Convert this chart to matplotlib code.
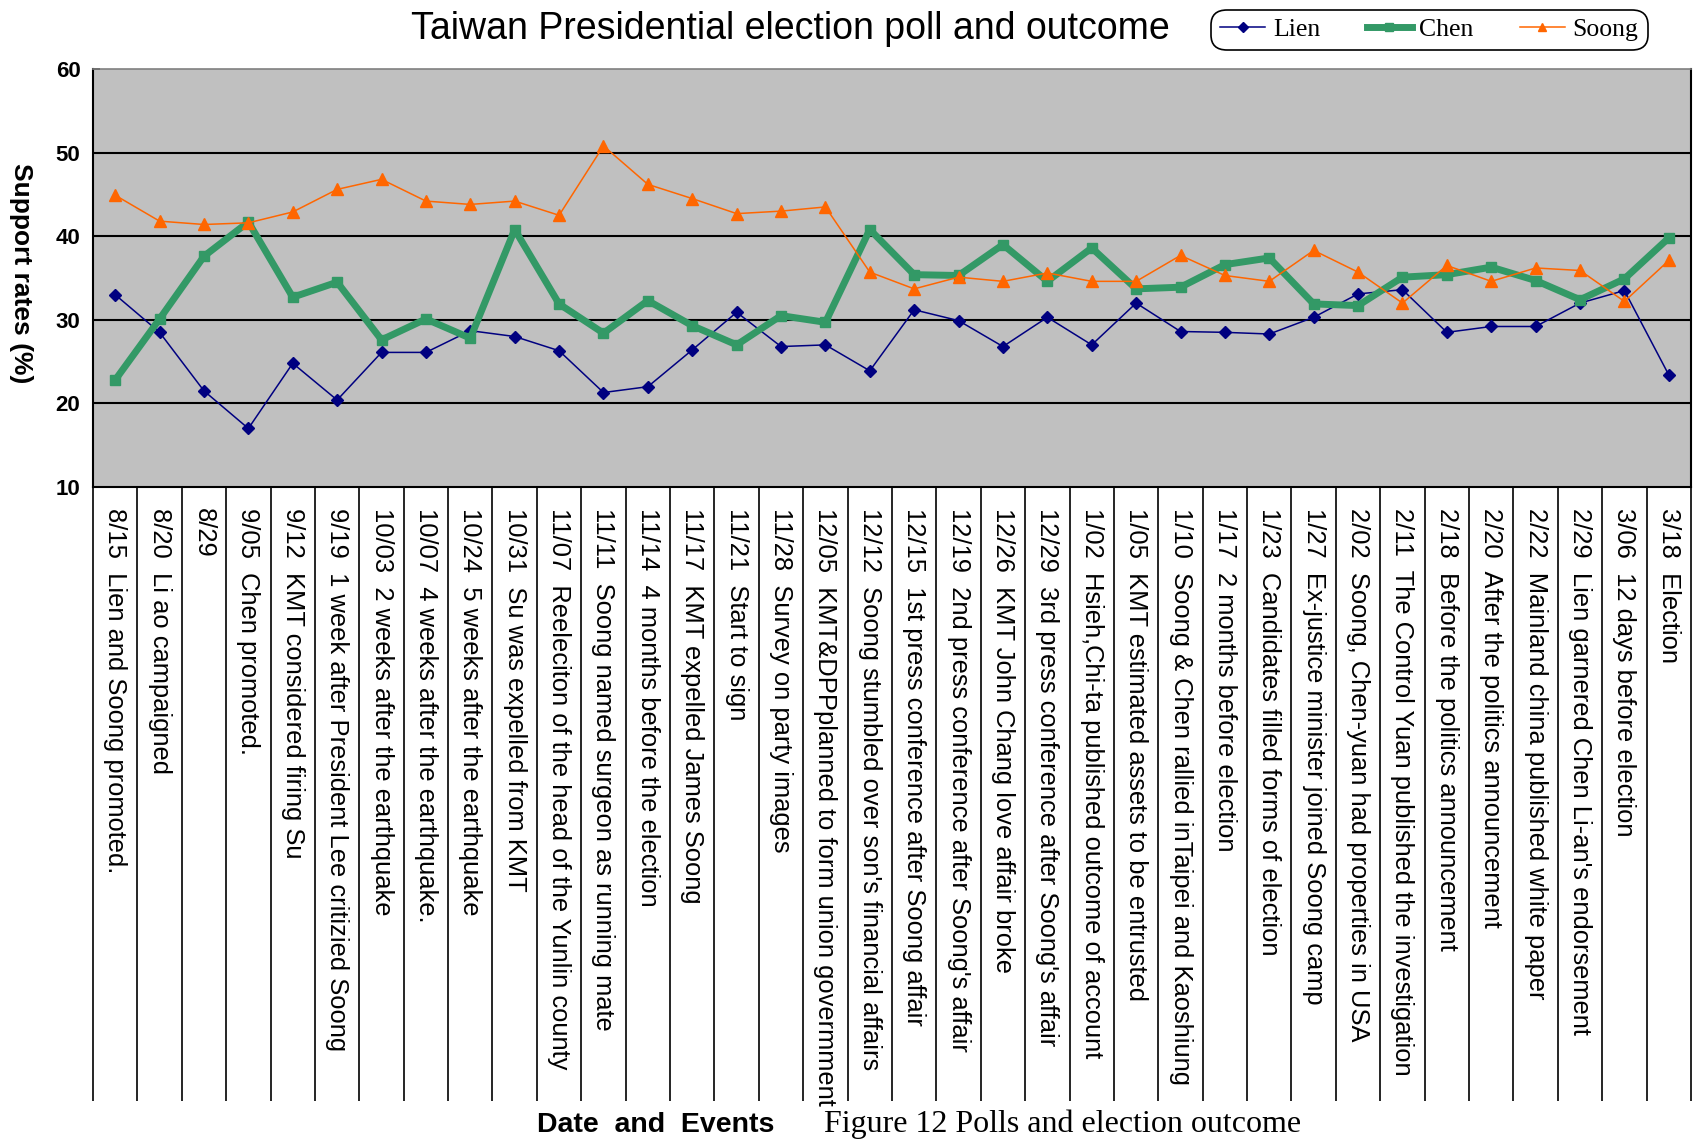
import matplotlib
matplotlib.use("Agg")
import matplotlib.pyplot as plt

plt.rcParams["font.family"] = ["Liberation Sans", "DejaVu Sans"]

# poll dates with the event that happened around each one
events = [
    "8/15  Lien and Soong promoted.",
    "8/20  Li ao campaigned",
    "8/29",
    "9/05  Chen promoted.",
    "9/12  KMT considered firing Su",
    "9/19  1 week after President Lee critizied Soong",
    "10/03  2 weeks after the earthquake",
    "10/07  4 weeks after the earthquake.",
    "10/24  5 weeks after the earthquake",
    "10/31  Su was expelled from KMT",
    "11/07  Reeleciton of the head of the Yunlin county",
    "11/11  Soong named surgeon as running mate",
    "11/14  4 months before the election",
    "11/17  KMT expelled James Soong",
    "11/21  Start to sign",
    "11/28  Survey on party images",
    "12/05  KMT&DPPplanned to form union govermment",
    "12/12  Soong stumbled over son's financial affairs",
    "12/15  1st press conference after Soong affair",
    "12/19  2nd press conference after Soong's affair",
    "12/26  KMT John Chang love affair broke",
    "12/29  3rd press conference after Soong's affair",
    "1/02  Hsieh,Chi-ta published outcome of account",
    "1/05  KMT estimated assets to be entrusted",
    "1/10  Soong & Chen rallied inTaipei and Kaoshiung",
    "1/17  2 months before election",
    "1/23  Candidates filled forms of election",
    "1/27  Ex-justice minister joined Soong camp",
    "2/02  Soong, Chen-yuan had properties in USA",
    "2/11  The Control Yuan published the investigation",
    "2/18  Before the politics announcement",
    "2/20  After the politics announcement",
    "2/22  Mainland china published white paper",
    "2/29  Lien garnered Chen Li-an's endorsement",
    "3/06  12 days before election",
    "3/18  Election",
]

# support rates (%)
lien = [33.0, 28.5, 21.5, 17.0, 24.8, 20.4, 26.1, 26.1, 28.7, 28.0,
        26.3, 21.3, 22.0, 26.4, 30.9, 26.8, 27.0, 23.9, 31.2, 29.9,
        26.8, 30.3, 27.0, 32.0, 28.6, 28.5, 28.3, 30.3, 33.1, 33.6,
        28.5, 29.2, 29.2, 32.0, 33.5, 23.4]
chen = [22.8, 30.1, 37.6, 41.7, 32.7, 34.5, 27.6, 30.1, 27.8, 40.8,
        31.9, 28.4, 32.3, 29.3, 27.0, 30.5, 29.7, 40.8, 35.4, 35.3,
        39.0, 34.6, 38.6, 33.7, 33.9, 36.6, 37.4, 31.9, 31.7, 35.1,
        35.4, 36.3, 34.7, 32.4, 34.9, 39.8]
soong = [44.9, 41.8, 41.4, 41.6, 42.9, 45.6, 46.8, 44.2, 43.8, 44.2,
         42.5, 50.8, 46.2, 44.5, 42.7, 43.0, 43.5, 35.7, 33.7, 35.1,
         34.6, 35.6, 34.6, 34.6, 37.7, 35.3, 34.6, 38.3, 35.7, 32.0,
         36.5, 34.6, 36.2, 35.9, 32.2, 37.1]

W, H = 1700, 1139
fig = plt.figure(figsize=(W / 100, H / 100), dpi=100)
ax = fig.add_axes([93 / W, 1 - 487 / H, (1691 - 93) / W, (487 - 69) / H])
ax.set_facecolor("#c0c0c0")

x = list(range(len(events)))
ax.plot(x, lien, color="#000080", lw=1.1, marker="D", ms=6.5, label="Lien")
ax.plot(x, chen, color="#339966", lw=5, marker="s", ms=7, label="Chen")
ax.plot(x, soong, color="#ff6600", lw=1.1, marker="^", ms=8, label="Soong")

ax.set_xlim(-0.5, len(events) - 0.5)
ax.set_ylim(10, 60)
ax.set_yticks(range(10, 61, 10))
for v in (20, 30, 40, 50):
    ax.axhline(v, color="black", lw=1.5, zorder=1)

ax.tick_params(axis="y", labelsize=16, pad=9, direction="in", length=5, width=1.2)
plt.setp(ax.get_yticklabels(), fontweight="bold")
ax.set_xticks(x)
ax.set_xticklabels(events, rotation=-90, fontsize=18.4, va="top", ha="center")
ax.tick_params(axis="x", length=0, pad=15)

for side in ("left", "right", "bottom"):
    ax.spines[side].set_color("black")
    ax.spines[side].set_linewidth(1.5)
ax.spines["top"].set_color("#808080")
ax.spines["top"].set_linewidth(1.2)

# column separators running down through the event labels
ax.vlines([i - 0.5 for i in range(len(events) + 1)], -1.47, 0,
          transform=ax.get_xaxis_transform(), colors="black", lw=1.2,
          clip_on=False)

fig.text(790 / W, 1 - 29 / H, "Taiwan Presidential election poll and outcome",
         ha="center", va="center", fontsize=27)
fig.text(21 / W, 1 - 273 / H, "Support rates (%)", rotation=-90,
         ha="center", va="center", fontsize=19, fontweight="bold")
fig.text(656 / W, 1 - 1125 / H, "Date  and  Events", ha="center", va="center",
         fontsize=20.5, fontweight="bold")
fig.text(824 / W, 1 - 1132 / H, "Figure 12 Polls and election outcome",
         ha="left", va="baseline", fontsize=23, family="Liberation Serif")

leg = fig.legend(loc="center", bbox_to_anchor=(1429.5 / W, 1 - 30 / H), ncol=3,
                 prop={"family": "Liberation Serif", "size": 18.5},
                 frameon=True, fancybox=True, edgecolor="black", framealpha=1,
                 handlelength=1.75, handletextpad=0.3, columnspacing=1.8,
                 borderpad=0.35, markerscale=0.8)
leg.get_frame().set_linewidth(1.2)
leg.get_frame().set_boxstyle("round", pad=0.0, rounding_size=0.6)

fig.savefig("out.png", dpi=100)
